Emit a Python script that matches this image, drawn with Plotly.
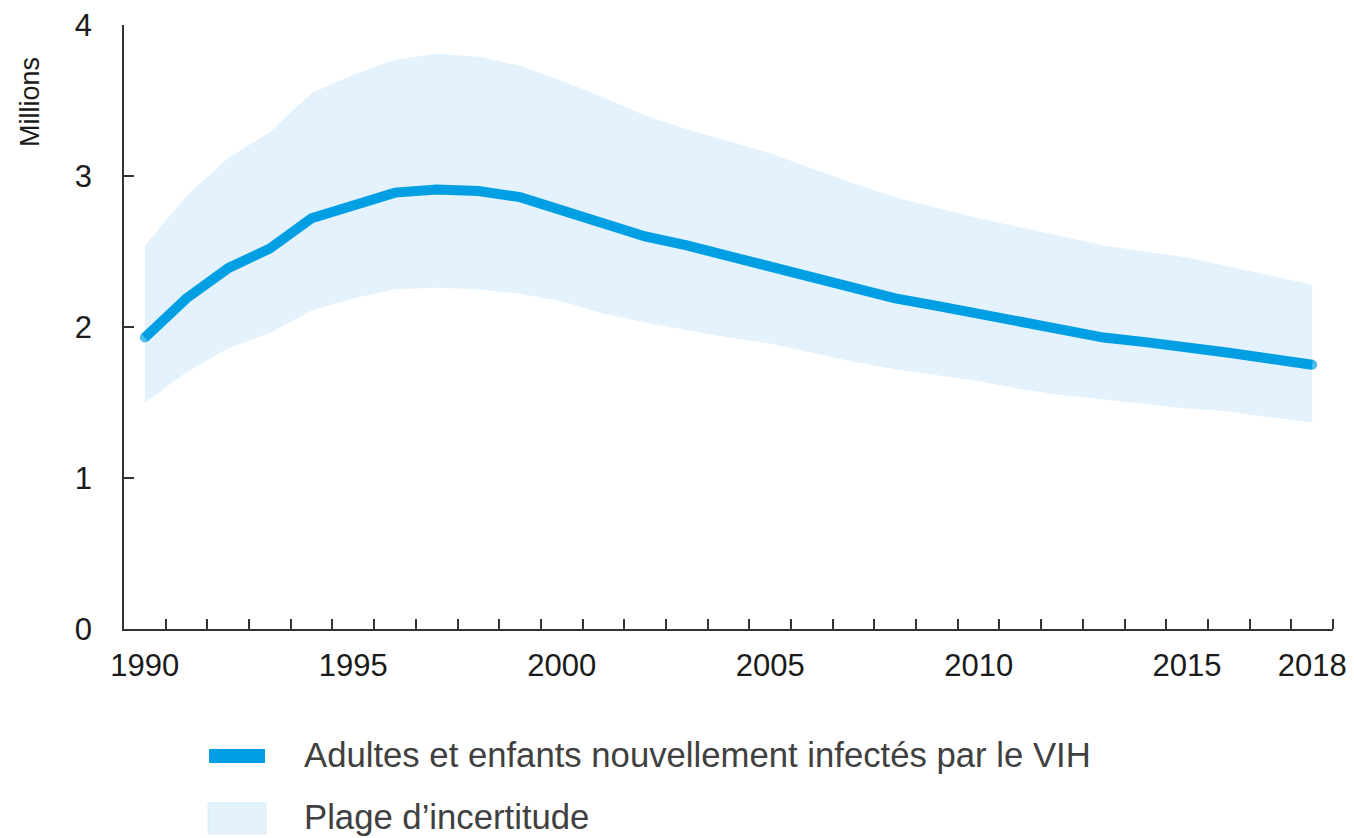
import plotly.graph_objects as go

years = list(range(1990, 2019))
central = [1.93, 2.19, 2.39, 2.52, 2.72, 2.81, 2.89, 2.91, 2.90, 2.86, 2.77, 2.68, 2.60, 2.54, 2.47,
           2.40, 2.34, 2.27, 2.19, 2.14, 2.09, 2.03, 1.98, 1.93, 1.90, 1.87, 1.83, 1.79, 1.75]
upper = [2.54, 2.87, 3.12, 3.29, 3.55, 3.67, 3.77, 3.81, 3.79, 3.73, 3.63, 3.52, 3.40, 3.31, 3.23,
         3.15, 3.05, 2.95, 2.86, 2.79, 2.72, 2.66, 2.60, 2.54, 2.50, 2.46, 2.40, 2.34, 2.28]
lower = [1.50, 1.70, 1.86, 1.96, 2.11, 2.19, 2.25, 2.26, 2.25, 2.22, 2.17, 2.09, 2.03, 1.98, 1.93,
         1.89, 1.83, 1.77, 1.72, 1.68, 1.64, 1.59, 1.55, 1.52, 1.49, 1.46, 1.44, 1.40, 1.37]
x_tick_labels = [1990, 1995, 2000, 2005, 2010, 2015, 2018]
y_ticks = [0, 1, 2, 3, 4]
series_name = "Adultes et enfants nouvellement infectés par le VIH"
band_name = "Plage d’incertitude"

LINE = "#009fe3"
BAND = "#e3f2fc"
FONT = "Liberation Sans, Arial, sans-serif"

W, H = 1354, 838
PL, PR, PT, PB = 124, 1333, 25, 629  # plot area in page pixels
L, T, R, B = PL, PT, W - PR, H - PB
pw, ph = W - L - R, H - T - B

def px_x(p):
    return (p - L) / pw

def px_y(p):
    return (H - B - p) / ph

fig = go.Figure()
fig.add_trace(go.Scatter(x=years, y=lower, mode="lines", line=dict(width=0, color=BAND),
                         showlegend=False, hoverinfo="skip"))
fig.add_trace(go.Scatter(x=years, y=upper, mode="lines", line=dict(width=0, color=BAND),
                         fill="tonexty", fillcolor=BAND, name=band_name, showlegend=False))
end_sizes = [10] + [0] * (len(years) - 2) + [10]
fig.add_trace(go.Scatter(x=years, y=central, mode="lines+markers",
                         line=dict(width=10, color=LINE, shape="linear"),
                         marker=dict(size=end_sizes, color=LINE, line=dict(width=0)),
                         name=series_name, showlegend=False))

fig.update_layout(
    width=W, height=H,
    margin=dict(l=L, r=R, t=T, b=B, pad=0, autoexpand=False),
    paper_bgcolor="white", plot_bgcolor="white",
    font=dict(family=FONT, size=31, color="#1a1a1a"),
    showlegend=False,
    xaxis=dict(
        range=[1989.5, 2018.5], showgrid=False, zeroline=False, automargin=False,
        showline=True, linecolor="#333333", linewidth=1.5,
        tickmode="array", tickvals=x_tick_labels, ticktext=[str(v) for v in x_tick_labels],
        ticks="", ticklabelstandoff=8, ticklabeloverflow="allow",
        tickfont=dict(size=31, color="#1a1a1a"),
        minor=dict(tickmode="array", tickvals=[y + 0.5 for y in years],
                   ticks="inside", ticklen=10, tickwidth=1.5, tickcolor="#333333", showgrid=False),
    ),
    yaxis=dict(
        range=[0, 4], showgrid=False, zeroline=False, automargin=False,
        showline=True, linecolor="#333333", linewidth=1.5,
        tickmode="array", tickvals=y_ticks, ticktext=[str(v) for v in y_ticks],
        ticks="inside", ticklen=10, tickwidth=1.5, tickcolor="#333333",
        ticklabelstandoff=24, ticklabeloverflow="allow",
        tickfont=dict(size=31, color="#1a1a1a"),
    ),
)

fig.add_annotation(text="Millions", xref="paper", yref="paper", x=px_x(30), y=px_y(102),
                   textangle=-90, showarrow=False, font=dict(size=27, color="#1a1a1a"),
                   xanchor="center", yanchor="middle")

# Legend (manual)
fig.add_shape(type="line", xref="paper", yref="paper",
              x0=px_x(209), x1=px_x(265), y0=px_y(756), y1=px_y(756),
              line=dict(color=LINE, width=14))
fig.add_shape(type="rect", xref="paper", yref="paper",
              x0=px_x(208), x1=px_x(266), y0=px_y(803), y1=px_y(834),
              fillcolor=BAND, line=dict(color="#d4eaf9", width=1))
fig.add_annotation(text=series_name, xref="paper", yref="paper", x=px_x(302), y=px_y(755),
                   showarrow=False, xanchor="left", yanchor="middle",
                   font=dict(size=34.7, color="#404040"))
fig.add_annotation(text=band_name, xref="paper", yref="paper", x=px_x(302), y=px_y(817),
                   showarrow=False, xanchor="left", yanchor="middle",
                   font=dict(size=34.7, color="#404040"))

fig.write_html("out.html", config={"displayModeBar": False},
               post_script="document.body.style.margin='0px';")
